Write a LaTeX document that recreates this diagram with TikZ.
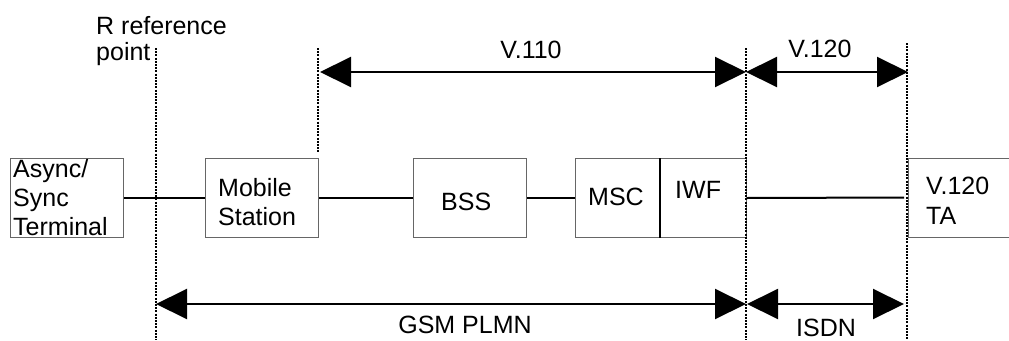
\documentclass[tikz,border=0pt]{standalone}
\usepackage{fontspec}
\setmainfont{Liberation Sans}
\usetikzlibrary{arrows.meta}
\begin{document}
\begin{tikzpicture}[x=1pt,y=-1pt,
  box/.style={draw=black!60, line width=1pt, inner sep=0pt, anchor=north west, minimum height=79pt},
  conn/.style={line width=2pt},
  refline/.style={line width=1.5pt, dash pattern=on 2pt off 1.2pt},
  span/.style={line width=2pt, {Triangle[length=31pt,width=30pt]}-{Triangle[length=31pt,width=30pt]}},
  lbl/.style={anchor=base west, inner sep=0pt, font=\fontsize{25}{29}\selectfont},
  clbl/.style={anchor=base, inner sep=0pt, font=\fontsize{25}{29}\selectfont}]
\useasboundingbox (0,0) rectangle (1009,340);

% boxes
\node[box, minimum width=113pt] (term) at (10,158) {};
\node[box, minimum width=113pt] (ms) at (205,158) {};
\node[box, minimum width=113pt] (bss) at (413,158) {};
\node[box, minimum width=85pt] (msc) at (575,158) {};
\node[box, minimum width=86pt] (iwf) at (660,158) {};
\node[box, minimum width=120pt] (ta) at (908,158) {};
\draw[conn] (iwf.north west) -- (iwf.south west);

% reference lines
\coordinate (R1) at (156,48);  \coordinate (R2) at (156,340);
\coordinate (M1) at (318,48);  \coordinate (M2) at (318,153);
\coordinate (C1) at (746,48);  \coordinate (C2) at (746,340);
\coordinate (D1) at (907,43);  \coordinate (D2) at (907,340);
\draw[refline] (R1) -- (R2);
\draw[refline] (M1) -- (M2);
\draw[refline] (C1) -- (C2);
\draw[refline] (D1) -- (D2);

% connectors
\draw[conn] (term.east) -- (ms.west);
\draw[conn] (ms.east) -- (bss.west);
\draw[conn] (bss.east) -- (msc.west);
\coordinate (taIn) at (904,197.5);
\draw[conn] (iwf.east) -- (taIn);

% spans
\coordinate (v110a) at (320,72); \coordinate (v110b) at (746,72);
\coordinate (v120a) at (746,72); \coordinate (v120b) at (908,72);
\coordinate (gsma) at (156,304); \coordinate (gsmb) at (746,304);
\coordinate (isdna) at (747,304); \coordinate (isdnb) at (904,304);
\draw[span] (v110a) -- (v110b);
\draw[span] (v120a) -- (v120b);
\draw[span] (gsma) -- (gsmb);
\draw[span] (isdna) -- (isdnb);

% labels
\node[lbl] (rref1) at (96,34) {R reference};
\node[lbl] (rref2) at (96,60) {point};
\node[lbl] (term1) at (13,177) {Async/};
\node[lbl] (term2) at (13,206) {Sync};
\node[lbl] (term3) at (13,235) {Terminal};
\node[lbl] (ms1) at (218,196) {Mobile};
\node[lbl] (ms2) at (218,225) {Station};
\node[lbl] (bsst) at (441,210) {BSS};
\node[lbl] (msct) at (588,205) {MSC};
\node[lbl] (iwft) at (675,198) {IWF};
\node[lbl] (ta1) at (926,194) {V.120};
\node[lbl] (ta2) at (926,224) {TA};
\node[clbl] (v110t) at (531,58) {V.110};
\node[clbl] (v120t) at (820,57) {V.120};
\node[clbl] (gsmt) at (465,333) {GSM PLMN};
\node[clbl] (isdnt) at (826,336) {ISDN};
\end{tikzpicture}
\end{document}
